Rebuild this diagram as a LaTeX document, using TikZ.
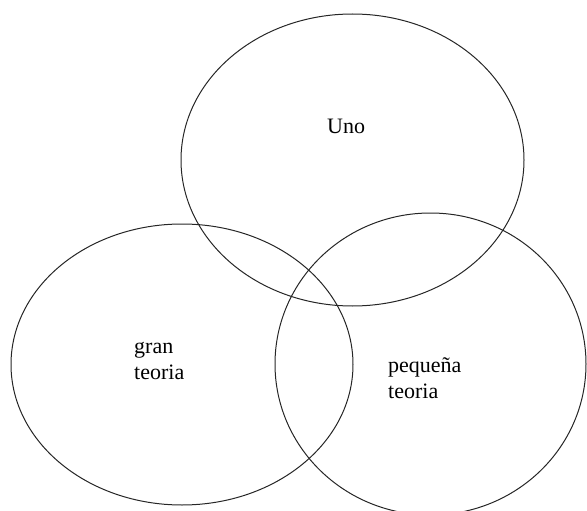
\documentclass[tikz,border=0pt]{standalone}
\usepackage{fontspec}
\setmainfont{Liberation Serif}
\usetikzlibrary{positioning,shapes.geometric}
\tikzstyle{SetNode}=[ellipse, draw=black!85, line width=1pt, inner sep=0pt]
\tikzstyle{LabelNode}=[anchor=base west, align=left, inner sep=0pt, font=\fontsize{22}{26}\selectfont]

\begin{document}
\begin{tikzpicture}[x=1pt, y=-1pt]
    \useasboundingbox (0,0) rectangle (587,511);

    \node (uno) [SetNode, minimum width=343pt, minimum height=292pt] at (352.5,160) {};
    \node (gran) [SetNode, minimum width=342pt, minimum height=281pt] at (182,364.5) {};
    \node (pequena) [SetNode, minimum width=311pt, minimum height=302pt] at (430.5,364) {};

    \node (unotext) [LabelNode] at (327,133) {Uno};
    \node (grantext) [LabelNode] at (134,379) {gran\\teoria};
    \node (pequenatext) [LabelNode] at (388,398) {pequeña\\teoria};
\end{tikzpicture}
\end{document}
